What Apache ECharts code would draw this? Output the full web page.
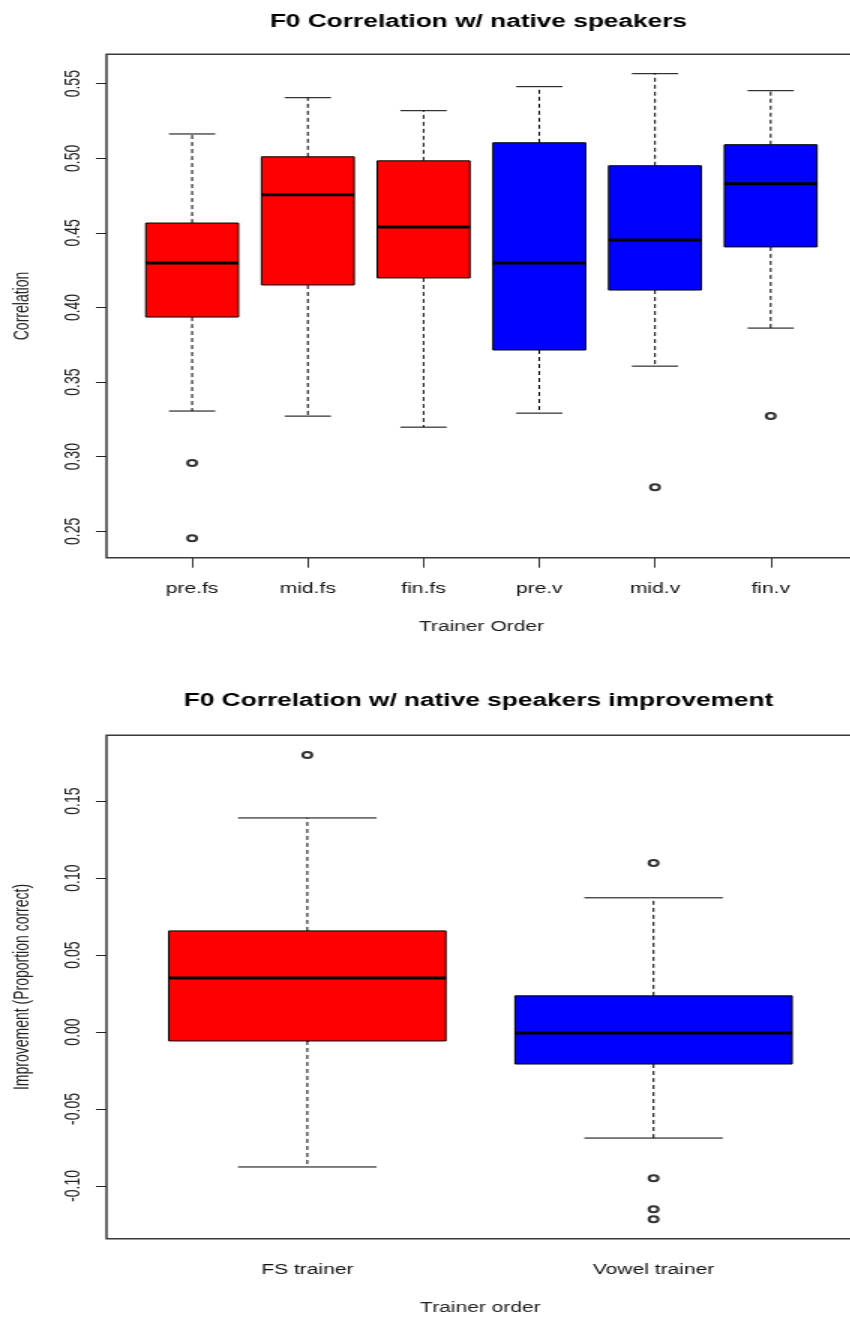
<!DOCTYPE html>
<html>
<head>
<meta charset="utf-8">
<script src="https://cdn.jsdelivr.net/npm/echarts@6/dist/echarts.min.js"></script>
<style>
  html, body { margin: 0; padding: 0; background: #fff; overflow: hidden; }
  /* the reference is stretched sideways, so draw narrow and stretch; wider than the window so the right frame edge falls off */
  #main { width: 580px; height: 1320px; transform: scaleX(1.5); transform-origin: 0 0; }
</style>
</head>
<body>
<div id="main"></div>
<script>
// top plot: F0 correlation by trainer order
var topCategories = ['pre.fs', 'mid.fs', 'fin.fs', 'pre.v', 'mid.v', 'fin.v'];
var topLower  = [0.3306, 0.3272, 0.3198, 0.3292, 0.3607, 0.3862];
var topQ1     = [0.3936, 0.4151, 0.4198, 0.3715, 0.4117, 0.4406];
var topMedian = [0.4298, 0.4755, 0.4540, 0.4299, 0.4453, 0.4829];
var topQ3     = [0.4566, 0.5010, 0.4983, 0.5104, 0.4950, 0.5091];
var topUpper  = [0.5163, 0.5406, 0.5319, 0.5480, 0.5567, 0.5453];
var topOutliers = [[1, 0.2957], [1, 0.2454], [5, 0.2795], [6, 0.3272]];
var topTicks = [0.25, 0.30, 0.35, 0.40, 0.45, 0.50, 0.55];

// bottom plot: improvement by trainer
var botCategories = ['FS trainer', 'Vowel trainer'];
var botLower  = [-0.0877, -0.0689];
var botQ1     = [-0.0058, -0.0208];
var botMedian = [0.0351, -0.0006];
var botQ3     = [0.0657, 0.0235];
var botUpper  = [0.1391, 0.0872];
var botOutliers = [[1, 0.1800], [2, 0.1099], [2, -0.0950], [2, -0.1152], [2, -0.1217]];
var botTicks = [-0.10, -0.05, 0.00, 0.05, 0.10, 0.15];

// fill colours
var topFill = ['#ff0000', '#ff0000', '#ff0000', '#0000ff', '#0000ff', '#0000ff'];
var botFill = ['#ff0000', '#0000ff'];

var font = 'Liberation Sans, Arial, sans-serif';

function boxRows(lower, q1, med, q3, upper) {
	var rows = [];
	for(var i = 0; i < lower.length; i++) {
		rows.push([i + 1, lower[i], q1[i], med[i], q3[i], upper[i]]);
	}
	return rows;
}

// R style box: dashed whiskers, staples, filled box, thick median
function makeRender(fills) {
	return function(params, api) {
		var x = api.value(0);
		var pLow = api.coord([x, api.value(1)]);
		var pQ1 = api.coord([x, api.value(2)]);
		var pMed = api.coord([x, api.value(3)]);
		var pQ3 = api.coord([x, api.value(4)]);
		var pHigh = api.coord([x, api.value(5)]);
		var unit = api.size([1, 0])[0];
		var half = unit * 0.4;
		var cap = unit * 0.2;
		var cx = pMed[0];
		var dash = { stroke: '#000', lineWidth: 1, lineDash: [4, 3] };
		var solid = { stroke: '#000', lineWidth: 1 };
		return {
			type: 'group',
			children: [
				{ type: 'line', shape: { x1: cx, y1: pQ3[1], x2: cx, y2: pHigh[1] }, style: dash },
				{ type: 'line', shape: { x1: cx, y1: pQ1[1], x2: cx, y2: pLow[1] }, style: dash },
				{ type: 'line', shape: { x1: cx - cap, y1: pHigh[1], x2: cx + cap, y2: pHigh[1] }, style: solid },
				{ type: 'line', shape: { x1: cx - cap, y1: pLow[1], x2: cx + cap, y2: pLow[1] }, style: solid },
				{ type: 'rect', shape: { x: cx - half, y: pQ3[1], width: half * 2, height: pQ1[1] - pQ3[1] },
					style: { fill: fills[params.dataIndex], stroke: '#000', lineWidth: 1 } },
				{ type: 'line', shape: { x1: cx - half, y1: pMed[1], x2: cx + half, y2: pMed[1] },
					style: { stroke: '#000', lineWidth: 3 } }
			]
		};
	};
}

function xAxisFor(gridIndex, cats, min, max, name) {
	var idx = cats.map(function(c, i) { return i + 1; });
	return {
		type: 'value', gridIndex: gridIndex, min: min, max: max,
		name: name, nameLocation: 'middle', nameGap: 62,
		nameTextStyle: { fontFamily: font, fontSize: 14, color: '#222' },
		axisLine: { show: false },
		axisTick: { show: true, customValues: idx, length: 10, lineStyle: { color: '#333' } },
		axisLabel: {
			customValues: idx, margin: 24, fontFamily: font, fontSize: 14, color: '#111',
			formatter: function(v) { return cats[Math.round(v) - 1]; }
		},
		splitLine: { show: false }
	};
}

function yAxisFor(gridIndex, ticks, min, max, name) {
	return {
		type: 'value', gridIndex: gridIndex, min: min, max: max,
		name: name, nameLocation: 'middle', nameGap: 49, nameRotate: 90,
		nameTextStyle: { fontFamily: font, fontSize: 14, color: '#222' },
		axisLine: { show: false },
		axisTick: { show: true, customValues: ticks, length: 7, lineStyle: { color: '#222' } },
		axisLabel: {
			customValues: ticks, rotate: 90, margin: 15, fontFamily: font, fontSize: 14, color: '#222',
			formatter: function(v) { return v.toFixed(2); }
		},
		splitLine: { show: false }
	};
}

var myChart = echarts.init(document.getElementById('main'));
myChart.setOption({
	animation: false,
	backgroundColor: '#fff',
	title: [
		{ text: 'F0 Correlation w/ native speakers', left: 314, top: 8, textAlign: 'center',
			textStyle: { fontFamily: font, fontSize: 17.5, fontWeight: 'bold', color: '#000' } },
		{ text: 'F0 Correlation w/ native speakers improvement', left: 314, top: 687, textAlign: 'center',
			textStyle: { fontFamily: font, fontSize: 17.5, fontWeight: 'bold', color: '#000' } }
	],
	grid: [
		{ left: 69.6, top: 54.3, width: 501.3, height: 503.4, show: true, borderColor: '#3a3a3a', borderWidth: 1.5, backgroundColor: 'transparent' },
		{ left: 69.6, top: 735.3, width: 500, height: 503.4, show: true, borderColor: '#3a3a3a', borderWidth: 1.5, backgroundColor: 'transparent' }
	],
	xAxis: [
		xAxisFor(0, topCategories, 0.26, 6.74, 'Trainer Order'),
		xAxisFor(1, botCategories, 0.42, 2.58, 'Trainer order')
	],
	yAxis: [
		yAxisFor(0, topTicks, 0.2323, 0.5697, 'Correlation'),
		yAxisFor(1, botTicks, -0.1343, 0.1928, 'Improvement (Proportion correct)')
	],
	series: [
		{ type: 'custom', xAxisIndex: 0, yAxisIndex: 0, renderItem: makeRender(topFill),
			encode: { x: 0, y: [1, 2, 3, 4, 5] },
			data: boxRows(topLower, topQ1, topMedian, topQ3, topUpper) },
		{ type: 'scatter', xAxisIndex: 0, yAxisIndex: 0, data: topOutliers,
			symbol: 'emptyCircle', symbolSize: 6, itemStyle: { color: '#000', borderWidth: 0.7 } },
		{ type: 'custom', xAxisIndex: 1, yAxisIndex: 1, renderItem: makeRender(botFill),
			encode: { x: 0, y: [1, 2, 3, 4, 5] },
			data: boxRows(botLower, botQ1, botMedian, botQ3, botUpper) },
		{ type: 'scatter', xAxisIndex: 1, yAxisIndex: 1, data: botOutliers,
			symbol: 'emptyCircle', symbolSize: 6, itemStyle: { color: '#000', borderWidth: 0.7 } }
	]
});
</script>
</body>
</html>
